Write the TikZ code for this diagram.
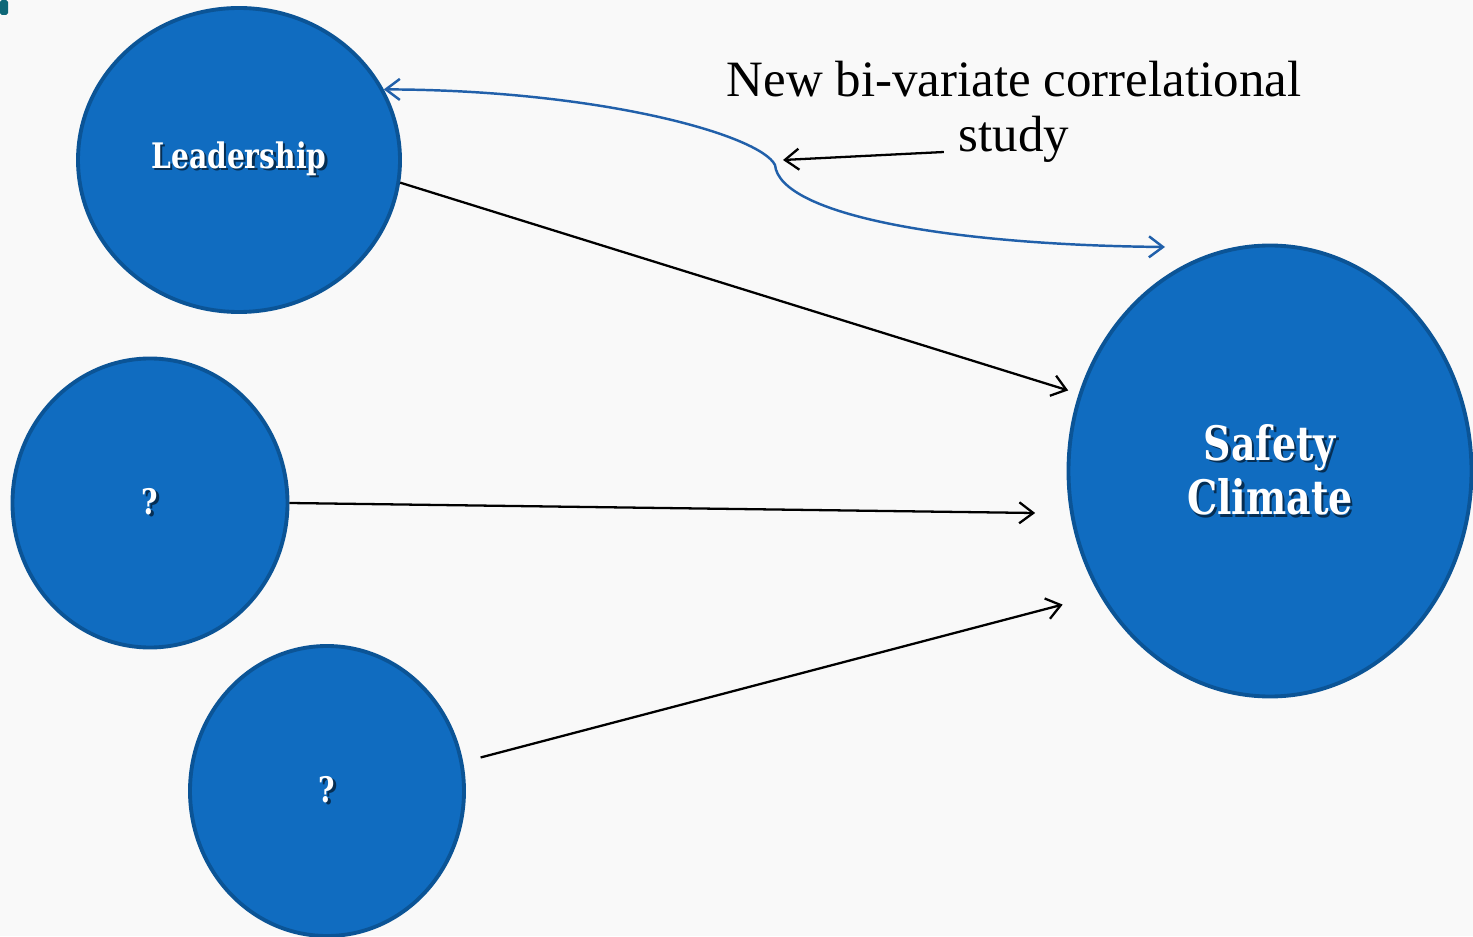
\documentclass[tikz,border=0pt]{standalone}
\usepackage{fontspec}
\setmainfont{Liberation Serif}
\newfontfamily\slabfont[FakeStretch=0.8]{DejaVu Serif}
\usetikzlibrary{arrows.meta, shapes.geometric}
\definecolor{bubfill}{HTML}{106CC0}
\definecolor{bubedge}{HTML}{0B5496}
\definecolor{corrblue}{HTML}{2160AA}
\definecolor{slidebg}{HTML}{F9F9F9}
\definecolor{tealmark}{HTML}{0E6878}
\newcommand{\shadowtext}[1]{\rlap{\hspace{1.3pt}\raisebox{-1.3pt}{\textcolor{bubedge!55!black}{#1}}}\textcolor{white}{#1}}

\begin{document}
\begin{tikzpicture}[
    >={Straight Barb[length=2.8mm, width=4.2mm]},
    bubble/.style={ellipse, draw=bubedge, fill=bubfill, line width=2.2pt, inner sep=0pt,
      font=\slabfont\bfseries\fontsize{20}{24}\selectfont, align=center},
    link/.style={->, line width=1.3pt},
  ]

  % Background
  \fill[slidebg] (0,0) rectangle (29.46,18.72);
  \useasboundingbox (0,0) rectangle (29.46,18.72);
  \fill[tealmark, rounded corners=1pt] (0,18.72) rectangle (0.16,18.42);

  % === Constructs ===
  \node[bubble, minimum width=6.44cm, minimum height=6.08cm] (lead) at (4.78,15.52)
    {\shadowtext{Leadership}};
  \node[bubble, minimum width=5.5cm, minimum height=5.78cm] (q1) at (3.00,8.66)
    {\shadowtext{?}};
  \node[bubble, minimum width=5.48cm, minimum height=5.8cm] (q2) at (6.54,2.90)
    {\shadowtext{?}};
  \node[bubble, minimum width=8.06cm, minimum height=9.02cm,
    font=\slabfont\bfseries\fontsize{27}{31}\selectfont] (safe) at (25.40,9.30)
    {\shadowtext{Safety}\\\shadowtext{Climate}};

  % === Paths into safety climate ===
  \draw[link, shorten >=0.22cm] (lead.-8.5) -- (safe.158);
  \draw[link, shorten >=0.7cm] (q1.east) -- (safe.-168);
  \draw[link, shorten <=0.36cm, shorten >=0.76cm] (q2.12) -- (safe.-144);

  % === Bi-variate correlation ===
  \coordinate (kink) at (15.5,15.42);
  \coordinate (sctip) at (23.3,13.78);
  \draw[<->, corrblue, line width=1.4pt]
    (lead.26) .. controls (12.0,16.92) and (15.2,16.02) .. (kink)
    .. controls (15.6,14.42) and (19.0,13.82) .. (sctip);

  % === Label ===
  \node[anchor=base, font=\fontsize{29}{32}\selectfont] (ttl) at (20.28,16.78)
    {New bi-variate correlational};
  \node[anchor=base, font=\fontsize{29}{32}\selectfont] (stdy) at (20.28,15.68) {study};
  \draw[->, line width=1.3pt] ([xshift=-5pt]stdy.base west) -- ([xshift=0.16cm,yshift=0.1cm]kink);

\end{tikzpicture}
\end{document}
